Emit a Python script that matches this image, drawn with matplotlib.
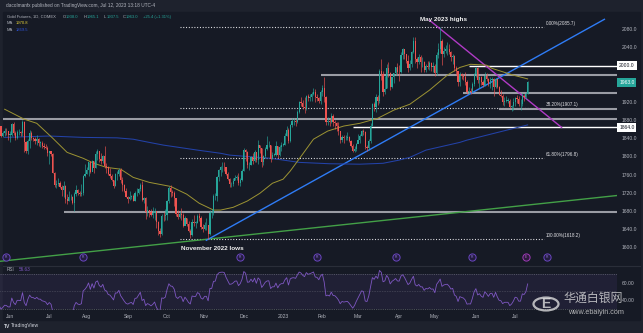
import numpy as np
import pandas as pd
import matplotlib
matplotlib.use("Agg")
import matplotlib.pyplot as plt
from matplotlib.patches import Circle

plt.rcParams["font.family"] = ["Liberation Sans", "DejaVu Sans"]

# ---------------------------------------------------------------- data
first_session = "2022-05-09"

# daily closes, one row per trading week
closes = [
    1854, 1841, 1853, 1824, 1808, 1814, 1818, 1816, 1842, 1846,
    1853, 1866, 1846, 1851, 1857, 1855, 1848,
    1848, 1871, 1851,
    1841, 1853, 1853, 1852, 1875,
    1831, 1813, 1835, 1851, 1840,
    1839, 1833, 1838, 1830, 1830,
    1823, 1821, 1818, 1807, 1812,
    1805, 1764, 1737, 1740, 1742,
    1732, 1727, 1735, 1706, 1703,
    1710, 1711, 1697, 1718, 1727,
    1719, 1717, 1719, 1756, 1762,
    1771, 1787, 1766, 1791, 1775,
    1805, 1812, 1795, 1789, 1802,
    1780, 1776, 1761, 1758, 1748,
    1736, 1761, 1761, 1771, 1749,
    1737, 1723, 1711, 1707, 1710,
    1712, 1702, 1719, 1720, 1728,
    1737, 1705, 1709, 1677, 1683,
    1678, 1671, 1675, 1681, 1655,
    1636, 1629, 1670, 1668, 1672,
    1702, 1730, 1721, 1720, 1709,
    1674, 1666, 1673, 1672, 1648,
    1664, 1652, 1636, 1627, 1656,
    1654, 1654, 1668, 1664, 1645,
    1640, 1649, 1649, 1630, 1676,
    1676, 1712, 1713, 1755, 1771,
    1776, 1777, 1776, 1762, 1751,
    1739, 1740, 1745, 1753, 1754,
    1741, 1749, 1768, 1815, 1810,
    1781, 1782, 1798, 1789, 1810,
    1792, 1825, 1818, 1787, 1800,
    1817, 1825, 1826, 1795, 1804,
    1804, 1823, 1804, 1820, 1826,
    1826, 1846, 1859, 1833, 1870,
    1877, 1878, 1876, 1898, 1920,
    1917, 1910, 1906, 1933, 1928,
    1932, 1937, 1943, 1930, 1929,
    1923, 1942, 1951, 1930, 1876,
    1879, 1875, 1890, 1875, 1874,
    1866, 1855, 1836, 1843, 1840,
    1841, 1842, 1834, 1823, 1811,
    1817, 1827, 1836, 1846, 1856,
    1854, 1820, 1818, 1834, 1868,
    1916, 1910, 1931, 1923, 1989,
    1982, 1942, 1949, 1995, 1983,
    1954, 1974, 1984, 1997, 1986,
    1985, 2024, 2037, 2026, 2010,
    1994, 2004, 2030, 2055, 2015,
    2008, 2019, 2007, 2007, 1990,
    2000, 1998, 2005, 1998, 1999,
    1984, 2023, 2037, 2055, 2025,
    2033, 2036, 2037, 2030, 2019,
    2022, 1995, 1989, 1963, 1981,
    1977, 1974, 1965, 1943, 1944,
    1943, 1959, 1982, 1995, 1969,
    1974, 1963, 1958, 1978, 1970,
    1959, 1969, 1970, 1954, 1971,
    1952, 1936, 1934, 1919, 1923,
    1923, 1923, 1908, 1912, 1919,
    1929, 1927, 1915, 1915, 1933,
    1931, 1938, 1963.0,
]

highs = [
    1872, 1858, 1858, 1856, 1826, 1825, 1829, 1826, 1849, 1853,
    1861, 1870, 1868, 1856, 1862, 1862, 1857,
    1856, 1874, 1875,
    1856, 1858, 1861, 1857, 1880,
    1878, 1834, 1838, 1859, 1857,
    1843, 1842, 1847, 1840, 1833,
    1835, 1829, 1827, 1822, 1812,
    1813, 1807, 1766, 1748, 1753,
    1745, 1738, 1745, 1738, 1717,
    1723, 1717, 1714, 1721, 1737,
    1729, 1724, 1740, 1759, 1783,
    1777, 1788, 1790, 1793, 1791,
    1811, 1816, 1807, 1808, 1804,
    1824, 1786, 1780, 1774, 1762,
    1748, 1763, 1767, 1775, 1775,
    1755, 1740, 1730, 1714, 1725,
    1715, 1717, 1723, 1730, 1731,
    1741, 1745, 1710, 1710, 1690,
    1683, 1685, 1688, 1686, 1680,
    1659, 1642, 1674, 1678, 1685,
    1705, 1734, 1737, 1726, 1723,
    1709, 1683, 1679, 1686, 1675,
    1668, 1665, 1658, 1640, 1662,
    1672, 1657, 1673, 1675, 1669,
    1651, 1656, 1665, 1644, 1683,
    1685, 1717, 1720, 1756, 1773,
    1779, 1787, 1787, 1777, 1766,
    1752, 1744, 1752, 1760, 1760,
    1763, 1753, 1773, 1819, 1817,
    1812, 1787, 1802, 1808, 1814,
    1807, 1836, 1826, 1819, 1804,
    1821, 1844, 1833, 1826, 1809,
    1808, 1833, 1823, 1825, 1831,
    1830, 1851, 1866, 1862, 1872,
    1885, 1884, 1882, 1902, 1922,
    1931, 1925, 1932, 1935, 1937,
    1938, 1943, 1951, 1949, 1937,
    1932, 1947, 1957, 1975, 1934,
    1886, 1885, 1895, 1894, 1880,
    1876, 1875, 1856, 1847, 1848,
    1848, 1853, 1846, 1837, 1828,
    1824, 1830, 1850, 1849, 1858,
    1860, 1856, 1825, 1838, 1874,
    1918, 1920, 1937, 1935, 1993,
    2014, 1988, 1977, 2003, 2007,
    1985, 1975, 1984, 1998, 2005,
    2001, 2030, 2038, 2037, 2021,
    2024, 2013, 2032, 2063, 2063,
    2020, 2026, 2023, 2020, 2010,
    2003, 2010, 2011, 2007, 2007,
    2004, 2029, 2050, 2085, 2058,
    2040, 2045, 2052, 2048, 2033,
    2026, 2024, 1999, 1986, 1986,
    1983, 1982, 1985, 1969, 1953,
    1950, 1965, 1984, 1998, 1996,
    1978, 1977, 1969, 1985, 1983,
    1973, 1974, 1976, 1973, 1973,
    1971, 1956, 1946, 1938, 1932,
    1933, 1929, 1926, 1914, 1928,
    1932, 1935, 1933, 1927, 1940,
    1937, 1942, 1965.1,
]

lows = [
    1849, 1836, 1832, 1820, 1797, 1805, 1810, 1806, 1812, 1836,
    1840, 1850, 1842, 1842, 1846, 1848, 1836,
    1832, 1844, 1848,
    1837, 1838, 1848, 1845, 1846,
    1809, 1807, 1806, 1818, 1836,
    1833, 1828, 1825, 1822, 1820,
    1818, 1816, 1816, 1802, 1784,
    1800, 1763, 1733, 1731, 1735,
    1731, 1714, 1710, 1697, 1696,
    1702, 1705, 1696, 1681, 1712,
    1715, 1712, 1712, 1716, 1755,
    1762, 1758, 1764, 1767, 1763,
    1774, 1793, 1788, 1783, 1785,
    1775, 1763, 1760, 1753, 1745,
    1730, 1734, 1749, 1757, 1742,
    1725, 1721, 1710, 1697, 1704,
    1707, 1701, 1702, 1714, 1718,
    1725, 1703, 1698, 1663, 1670,
    1666, 1670, 1665, 1660, 1643,
    1627, 1622, 1626, 1657, 1660,
    1660, 1697, 1711, 1712, 1691,
    1670, 1662, 1664, 1660, 1644,
    1649, 1646, 1634, 1621, 1625,
    1646, 1643, 1653, 1658, 1640,
    1633, 1637, 1637, 1618, 1628,
    1665, 1672, 1704, 1703, 1745,
    1756, 1766, 1767, 1759, 1749,
    1733, 1732, 1734, 1748, 1749,
    1738, 1734, 1746, 1767, 1791,
    1775, 1770, 1782, 1784, 1788,
    1787, 1784, 1807, 1777, 1782,
    1797, 1814, 1821, 1787, 1794,
    1800, 1801, 1797, 1802, 1811,
    1822, 1826, 1846, 1830, 1831,
    1865, 1869, 1868, 1873, 1895,
    1912, 1904, 1896, 1903, 1923,
    1923, 1922, 1935, 1921, 1922,
    1918, 1916, 1934, 1920, 1869,
    1870, 1866, 1874, 1868, 1861,
    1857, 1847, 1830, 1832, 1829,
    1837, 1836, 1831, 1820, 1810,
    1810, 1813, 1832, 1830, 1844,
    1848, 1817, 1812, 1814, 1830,
    1867, 1900, 1897, 1914, 1917,
    1969, 1934, 1937, 1950, 1974,
    1946, 1950, 1962, 1980, 1980,
    1967, 1984, 2015, 2014, 2005,
    1985, 1990, 1997, 2027, 2005,
    1995, 2004, 1985, 1996, 1985,
    1985, 1993, 1991, 1989, 1986,
    1978, 1980, 2017, 2028, 2001,
    2019, 2027, 2024, 2025, 2011,
    2004, 1989, 1979, 1956, 1955,
    1971, 1968, 1957, 1937, 1938,
    1938, 1941, 1956, 1974, 1961,
    1951, 1957, 1952, 1956, 1966,
    1955, 1951, 1947, 1934, 1950,
    1950, 1935, 1931, 1913, 1912,
    1919, 1917, 1907, 1900, 1903,
    1912, 1918, 1912, 1903, 1911,
    1923, 1926, 1937.5,
]

# moving averages as plotted (50 and 200 sessions)
ma_fast_dates = [
    "2022-05-27", "2022-06-13", "2022-06-22", "2022-07-05", "2022-07-15",
    "2022-07-28", "2022-08-05", "2022-08-16", "2022-08-26", "2022-09-06",
    "2022-09-19", "2022-10-05", "2022-10-18", "2022-10-27", "2022-11-08",
    "2022-11-14", "2022-11-23", "2022-12-05", "2022-12-14", "2022-12-23",
    "2023-01-02", "2023-01-06", "2023-01-16", "2023-01-25", "2023-02-06",
    "2023-02-17", "2023-03-02", "2023-03-16", "2023-03-29", "2023-04-11",
    "2023-04-26", "2023-05-10", "2023-05-19", "2023-05-29", "2023-06-09",
    "2023-06-14", "2023-06-30", "2023-07-12",
]
ma_fast_values = [
    1904, 1882, 1873, 1840, 1809, 1796, 1785, 1776, 1772, 1754,
    1743, 1734, 1717, 1697, 1682, 1682, 1688, 1702, 1719, 1741,
    1750, 1768, 1800, 1838, 1856, 1867, 1873, 1884, 1902, 1915,
    1946, 1979, 1996, 2003, 2001, 1994, 1979, 1970.8,
]
ma_slow_dates = [
    "2022-05-27", "2022-07-01", "2022-07-28", "2022-08-24", "2022-09-06",
    "2022-09-19", "2022-09-29", "2022-10-26", "2022-11-14", "2022-11-21",
    "2022-12-22", "2023-01-13", "2023-02-07", "2023-03-02", "2023-03-21",
    "2023-04-03", "2023-04-11", "2023-04-24", "2023-05-19", "2023-05-25",
    "2023-07-12",
]
ma_slow_values = [
    1842, 1845, 1842, 1841, 1838, 1831, 1825, 1814, 1807, 1803,
    1796, 1787, 1784, 1783, 1785, 1792, 1798, 1814, 1831, 1836,
    1869.5,
]

# horizontal rays: (start date, price)
grey_levels = [("2023-01-31", 1978.7), ("2023-05-23", 1939.0), ("2023-06-20", 1904.0),
               ("2022-05-26", 1882.0), ("2022-07-13", 1677.0)]
white_levels = [("2023-05-26", 2000.0), ("2023-02-24", 1864.0)]

fib_labels = ["0.00%", "38.20%", "61.80%", "100.00%"]
fib_prices = [2085.7, 1907.1, 1796.8, 1618.2]
fib_span = ("2022-10-12", "2023-07-25")

support_line = [("2022-11-02", 1615.5), ("2023-09-11", 2102.0)]
long_line = [("2022-05-24", 1569.0), ("2023-09-20", 1714.0)]
down_line = [("2023-04-26", 2100.0), ("2023-08-08", 1864.0)]

roll_dates = ["2022-05-30", "2022-07-28", "2022-11-29", "2023-01-27",
              "2023-03-30", "2023-05-30", "2023-07-27"]
event_date = "2023-07-11"

month_starts = ["2022-06-01", "2022-07-01", "2022-08-01", "2022-09-01", "2022-10-03",
                "2022-11-01", "2022-12-01", "2023-01-02", "2023-02-01", "2023-03-01",
                "2023-04-03", "2023-05-01", "2023-06-01", "2023-07-03"]
month_labels = ["Jun", "Jul", "Aug", "Sep", "Oct", "Nov", "Dec", "2023",
                "Feb", "Mar", "Apr", "May", "Jun", "Jul"]

price_ticks = [2080, 2040, 1920, 1880, 1840, 1800, 1760, 1720, 1680, 1640, 1600]

# ---------------------------------------------------------------- helpers
calendar = pd.bdate_range(first_session, periods=len(closes) + 90)


def sx(date):
    return calendar.get_loc(pd.Timestamp(date))


n = len(closes)
xs = np.arange(n)
closes_a = np.asarray(closes, float)
opens_a = np.r_[closes_a[0], closes_a[:-1]]
highs_a = np.asarray(highs, float)
lows_a = np.asarray(lows, float)

BG = "#161a25"
FRAME = "#1e222d"
TXT = "#b2b5be"
UP = "#26a69a"
DN = "#ef5350"

W, H = 643, 333
fig = plt.figure(figsize=(W / 100, H / 100), dpi=100, facecolor=FRAME)


def fy(px):
    return 1 - px / H


def fx(px):
    return px / W


# chart panel background
fig.add_artist(plt.Rectangle((fx(3), fy(320)), fx(640) - fx(3), fy(12) - fy(320),
                             transform=fig.transFigure, color=BG, zorder=0))

PX_PER_BAR = 1.785
x0 = sx("2022-06-01") - 10 / PX_PER_BAR
x1 = x0 + 617 / PX_PER_BAR

# ---------------------------------------------------------------- price pane
ax = fig.add_axes([0, fy(265), fx(617), (265 - 12) / H])
ax.set_facecolor("none")
ax.set_xlim(x0, x1)
p_top = 2080 + (29.3 - 12) * 2.2018
p_bot = 2080 - (265 - 29.3) * 2.2018
ax.set_ylim(p_bot, p_top)
for s in ax.spines.values():
    s.set_visible(False)
ax.set_xticks([])
ax.yaxis.tick_right()
ax.set_yticks(price_ticks)
ax.set_yticklabels([f"{v:.1f}" for v in price_ticks])
ax.tick_params(axis="y", length=0, pad=3.5, labelsize=3.6, labelcolor=TXT)

# fibonacci levels
fa, fb = sx(fib_span[0]), sx(fib_span[1])
for lab, p in zip(fib_labels, fib_prices):
    ax.plot([fa, fb], [p, p], color="#e8e8ec", lw=0.8, ls=(0, (0.9, 1.6)), zorder=2)
    ax.text(fb + 1.2, p + 2.5, f"{lab}({p:.1f})", color="#e0e0e4", fontsize=3.3,
            ha="left", va="bottom", zorder=5)

# horizontal rays
for d, p in grey_levels:
    ax.plot([sx(d), x1 + 5], [p, p], color="#9a9ca4", lw=1.5, zorder=3,
            solid_capstyle="butt")
for d, p in white_levels:
    ax.plot([sx(d), x1 + 5], [p, p], color="#ffffff", lw=1.0, zorder=3,
            solid_capstyle="butt")

# trend lines
for pts, col in [(long_line, "#43a047"), (support_line, "#2f7cf6"), (down_line, "#b03ac6")]:
    (da, pa), (db, pb) = pts
    ax.plot([sx(da), sx(db)], [pa, pb], color=col, lw=1.0, zorder=3)

# moving averages
ax.plot([sx(d) for d in ma_slow_dates], ma_slow_values, color="#2342a8", lw=0.75, zorder=4)
ax.plot([sx(d) for d in ma_fast_dates], ma_fast_values, color="#9d9433", lw=0.7, zorder=4)

# candles
up = closes_a >= opens_a
ax.vlines(xs, lows_a, highs_a, colors=np.where(up, UP, DN), lw=0.45, zorder=5)
body_lo = np.minimum(opens_a, closes_a)
body_h = np.maximum(np.abs(closes_a - opens_a), 0.8)
ax.bar(xs, body_h, bottom=body_lo, width=0.66, color=np.where(up, UP, DN),
       linewidth=0, zorder=6)

# annotations
ax.text(sx("2023-05-04") + 2, 2101, "May 2023 highs", color="#f0f0f0", fontsize=4.6,
        ha="center", va="center", fontweight="bold", zorder=7)
ax.text(sx("2022-11-08") - 0.5, 1598, "November 2022 lows", color="#f0f0f0", fontsize=4.6,
        ha="center", va="center", fontweight="bold", zorder=7)

# contract roll markers along the bottom of the pane
ry = 1578
for d in roll_dates:
    ax.plot(sx(d), ry, marker="o", ms=5.2, mfc="#231c3f", mec="#6a46c0", mew=0.7,
            zorder=7, clip_on=False)
    ax.text(sx(d), ry, "R", color="#8f73d8", fontsize=2.4, ha="center", va="center",
            zorder=8)
ax.plot(sx(event_date), ry, marker="o", ms=5.2, mfc="#2c1b3c", mec="#a03ab8", mew=0.7,
        zorder=7)
ax.text(sx(event_date), ry, "E", color="#c060d8", fontsize=2.4, ha="center",
        va="center", zorder=8)

# last price / level tags on the scale
tags = [(2000.0, "white", "#131722"), (closes_a[-1], UP, "white"), (1864.0, "white", "#131722")]
for p, fc, tc in tags:
    ax.text(1.0035, (p - p_bot) / (p_top - p_bot), f"{p:.1f}", transform=ax.transAxes,
            fontsize=3.6, color=tc, ha="left", va="center", zorder=9,
            bbox=dict(boxstyle="square,pad=0.35", fc=fc, ec="none"))

# ---------------------------------------------------------------- RSI pane
c = pd.Series(closes_a)
delta = c.diff()
gain = delta.clip(lower=0).ewm(alpha=1 / 14, adjust=False).mean()
loss = (-delta.clip(upper=0)).ewm(alpha=1 / 14, adjust=False).mean()
rsi = 100 - 100 / (1 + gain / loss)

axr = fig.add_axes([0, fy(310), fx(617), (310 - 266) / H])
axr.set_facecolor("none")
axr.set_xlim(x0, x1)
axr.set_ylim(28.5, 79.1)
for s in axr.spines.values():
    s.set_visible(False)
axr.axhspan(30, 70, color="#7e57c2", alpha=0.10, lw=0)
for lvl, st in [(70, (0, (2, 2))), (50, (0, (1, 2))), (30, (0, (2, 2)))]:
    axr.axhline(lvl, color="#787b86", lw=0.4, ls=st)
axr.plot(xs[1:], rsi.values[1:], color="#7e57c2", lw=0.6)
axr.yaxis.tick_right()
axr.set_yticks([60, 40])
axr.set_yticklabels(["60.00", "40.00"])
axr.tick_params(axis="y", length=0, pad=3.5, labelsize=3.6, labelcolor=TXT)
axr.set_xticks([sx(d) for d in month_starts])
axr.set_xticklabels(month_labels)
axr.tick_params(axis="x", length=0, pad=3.0, labelsize=3.6, labelcolor=TXT)
axr.text(0.011, 0.93, "RSI", transform=axr.transAxes, fontsize=3.3, color=TXT,
         ha="left", va="center")
axr.text(0.030, 0.93, "56.63", transform=axr.transAxes, fontsize=3.3, color="#7e57c2",
         ha="left", va="center")

# pane divider
fig.add_artist(plt.Line2D([fx(3), fx(640)], [fy(265.5), fy(265.5)],
                          transform=fig.transFigure, color="#2a2e39", lw=0.8))

# ---------------------------------------------------------------- header / legend
LF = 3.0
fig.text(fx(6), fy(6), "dacolmanfx published on TradingView.com, Jul 12, 2023 13:18 UTC-4",
         fontsize=3.4, color=TXT, va="center", ha="left")
fig.text(fx(7), fy(17), "Gold Futures, 1D, COMEX", fontsize=LF, color=TXT,
         va="center", ha="left")
legend_items = [("O", "1938.0", 63), ("H", "1965.1", 84), ("L", "1937.5", 104),
                ("C", "1963.0", 123)]
for k, v, px in legend_items:
    fig.text(fx(px), fy(17), k, fontsize=LF, color=TXT, va="center", ha="left")
    fig.text(fx(px + 3.2), fy(17), v, fontsize=LF, color=UP, va="center", ha="left")
fig.text(fx(143), fy(17), "+25.4 (+1.31%)", fontsize=LF, color=UP, va="center", ha="left")
fig.text(fx(7), fy(23.5), "MA", fontsize=LF, color=TXT, va="center", ha="left")
fig.text(fx(16), fy(23.5), "1970.8", fontsize=LF, color="#e8d53a", va="center", ha="left")
fig.text(fx(7), fy(30), "MA", fontsize=LF, color=TXT, va="center", ha="left")
fig.text(fx(16), fy(30), "1869.5", fontsize=LF, color="#2f54d8", va="center", ha="left")

# footer
fig.text(fx(4), fy(326), "TV", fontsize=3.6, color="#d1d4dc", fontweight="bold",
         va="center", ha="left")
fig.text(fx(11), fy(326), "TradingView", fontsize=3.6, color="#d1d4dc", va="center", ha="left")

# watermark
fig.add_artist(Circle((fx(546), fy(304)), 12.5 / W, transform=fig.transFigure,
                      fill=False, ec="#e8e8e8", lw=1.6, alpha=0.75))
fig.text(fx(546), fy(304), "E", fontsize=10, color="#e8e8e8", alpha=0.75,
         ha="center", va="center", fontweight="bold")
fig.text(fx(593), fy(298), "华通白银网", fontsize=8.6, color="#e8e8e8", alpha=0.75,
         ha="center", va="center", family=["Noto Sans CJK SC", "DejaVu Sans"])
fig.text(fx(596), fy(313), "www.ebaiyin.com", fontsize=5.2, color="#e8e8e8", alpha=0.75,
         ha="center", va="center")

fig.savefig("out.png", dpi=100, facecolor=fig.get_facecolor())
